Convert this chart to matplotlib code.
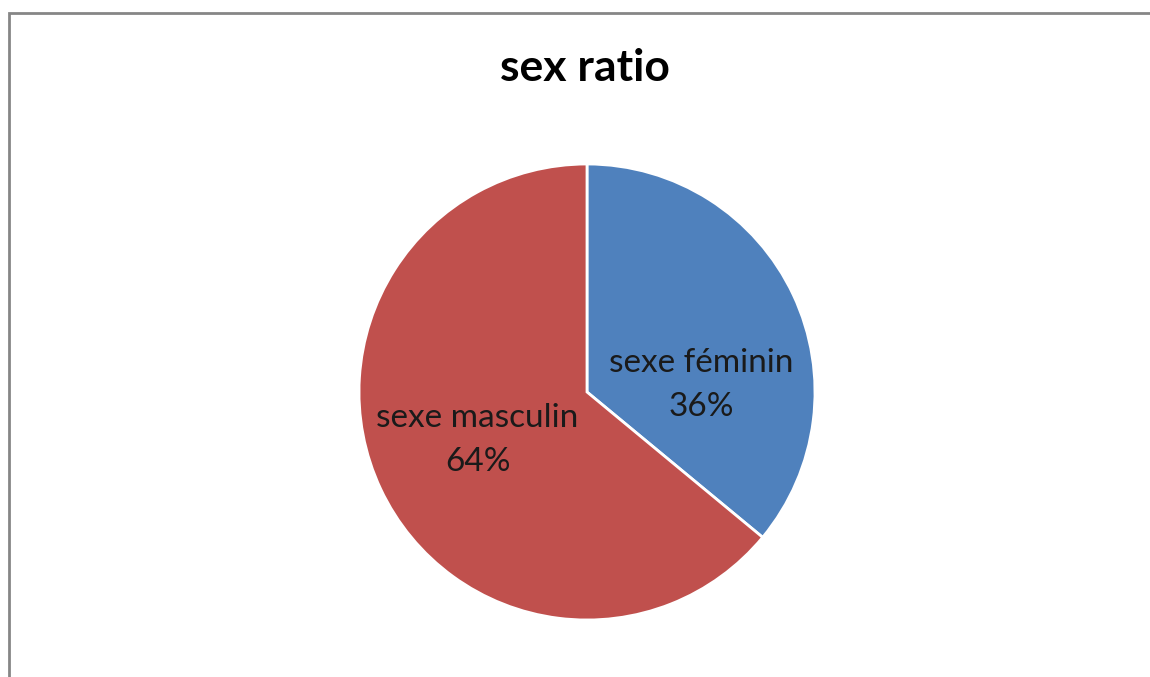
import matplotlib
matplotlib.use('Agg')
import matplotlib.pyplot as plt
from matplotlib.patches import Rectangle

# Data
categories = ['sexe féminin', 'sexe masculin']
shares = [36, 64]
colors = ['#4F81BD', '#C0504D']

plt.rcParams['font.family'] = ['Lato', 'DejaVu Sans']

fig = plt.figure(figsize=(11.5, 6.77), dpi=100)

# chart frame (Excel style border)
fig.patches.append(Rectangle((9 / 1150, -0.05), 1.1, (677 - 13) / 677 + 0.05,
                             transform=fig.transFigure, fill=False,
                             edgecolor='#868686', linewidth=2))

ax = fig.add_axes([359 / 1150, 57 / 677, 456 / 1150, 456 / 677])
wedges, _ = ax.pie(shares, colors=colors, startangle=90, counterclock=False,
                   radius=1, wedgeprops=dict(edgecolor='white', linewidth=2))
ax.set_xlim(-1, 1)
ax.set_ylim(-1, 1)
ax.set_aspect('equal')

# data labels placed like the Excel "best fit" labels
label_pos = [(0.50, 0.03), (-0.48, -0.21)]
for name, val, (x, y) in zip(categories, shares, label_pos):
    ax.text(x, y, f'{name}\n{val}%', ha='center', va='center',
            fontsize=24, color='#1a1a1a', linespacing=1.6)

fig.text(585 / 1150, 1 - 68 / 677, 'sex ratio', ha='center', va='center',
         fontsize=32, fontweight='bold', color='black')

fig.savefig('out.png', dpi=100)
